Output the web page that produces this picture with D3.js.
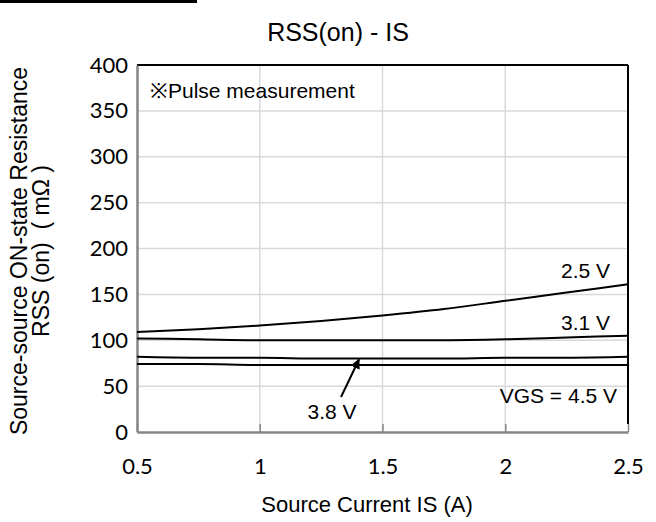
<!DOCTYPE html>
<html lang="en">
<head>
<meta charset="utf-8">
<title>RSS(on) - IS</title>
<script src="https://d3js.org/d3.v7.min.js"></script>
<style>
  body { margin: 0; background: #fff; }
  text { font-family: "Liberation Sans", Arial, sans-serif; fill: #000; white-space: pre; }
  .tick text { font-family: Lato, "Liberation Sans", sans-serif; font-size: 22px; }
</style>
</head>
<body>
<svg width="656" height="522"></svg>
<script>
// data
var currents = [0.5, 0.75, 1, 1.25, 1.5, 1.75, 2, 2.25, 2.5];
var r25 = [109, 112, 116, 121, 127, 134, 143, 152, 161];
var r31 = [102, 101, 100, 100, 100, 100, 101, 103, 105];
var r38 = [82, 81, 81, 80, 80, 80, 81, 81, 82];
var r45 = [74, 74, 73, 73, 73, 73, 73, 73, 73];
var xTicks = [0.5, 1, 1.5, 2, 2.5];
var yTicks = [0, 50, 100, 150, 200, 250, 300, 350, 400];

var svg = d3.select("svg");
var pL = 137, pR = 628, pT = 65, pB = 432;

var x = d3.scaleLinear().domain([0.5, 2.5]).range([pL, pR]);
var y = d3.scaleLinear().domain([0, 400]).range([pB, pT]);

// stray black bar at the top edge
svg.append("rect").attr("x", 0).attr("y", 0).attr("width", 197).attr("height", 3).attr("fill", "#000");

// gridlines
svg.append("g").selectAll("line").data(yTicks.slice(1, -1)).join("line")
  .attr("x1", pL).attr("x2", pR)
  .attr("y1", d => y(d)).attr("y2", d => y(d))
  .attr("stroke", "#d9d9d9").attr("stroke-width", 1.5);
svg.append("g").selectAll("line").data(xTicks.slice(1, -1)).join("line")
  .attr("x1", d => x(d)).attr("x2", d => x(d))
  .attr("y1", pT).attr("y2", pB)
  .attr("stroke", "#d9d9d9").attr("stroke-width", 1.5);

// top and right frame in black
svg.append("line").attr("x1", pL).attr("x2", pR).attr("y1", pT).attr("y2", pT)
  .attr("stroke", "#000").attr("stroke-width", 2);
svg.append("line").attr("x1", pR).attr("x2", pR).attr("y1", pT).attr("y2", pB - 8)
  .attr("stroke", "#000").attr("stroke-width", 2);

// axes
var xAxis = svg.append("g").attr("transform", "translate(0," + pB + ")")
  .call(d3.axisBottom(x).tickValues(xTicks).tickSize(6).tickSizeOuter(0).tickPadding(20)
    .tickFormat(d3.format("")));
xAxis.select(".domain").attr("stroke", "#868686").attr("stroke-width", 2.5);
xAxis.selectAll(".tick line").attr("stroke", "#868686").attr("stroke-width", 1.5).attr("y1", -8).attr("y2", 0);

var yAxis = svg.append("g").attr("transform", "translate(" + pL + ",0)")
  .call(d3.axisLeft(y).tickValues(yTicks).tickSize(0).tickSizeOuter(0).tickPadding(9));
yAxis.select(".domain").attr("stroke", "#868686").attr("stroke-width", 2.5);

// curves
var line = d3.line().x((d, i) => x(currents[i])).y(d => y(d)).curve(d3.curveMonotoneX);
[r25, r31, r38, r45].forEach(function (s) {
  svg.append("path").attr("d", line(s)).attr("fill", "none")
    .attr("stroke", "#000").attr("stroke-width", 2);
});

// title and axis labels
svg.append("text").attr("x", 338).attr("y", 41).attr("text-anchor", "middle")
  .attr("font-size", 25).text("RSS(on) - IS");
svg.append("text").attr("x", 367).attr("y", 512).attr("text-anchor", "middle")
  .attr("font-size", 22).text("Source Current IS (A)");
var yl = svg.append("text").attr("transform", "translate(27,251) rotate(-90)")
  .attr("text-anchor", "middle").attr("font-size", 23);
yl.append("tspan").attr("x", 0).attr("dy", 0).text("Source-source ON-state Resistance");
yl.append("tspan").attr("x", 0).attr("dy", 22).text("RSS (on)  ( m\u03A9 )");

// annotations
svg.append("text").attr("x", 150).attr("y", 98).attr("font-size", 21).text("\u203BPulse measurement");
svg.append("text").attr("x", 610).attr("y", 278).attr("text-anchor", "end").attr("font-size", 21).text("2.5 V");
svg.append("text").attr("x", 610).attr("y", 330).attr("text-anchor", "end").attr("font-size", 21).text("3.1 V");
svg.append("text").attr("x", 617).attr("y", 403).attr("text-anchor", "end").attr("font-size", 21).text("VGS = 4.5 V");
svg.append("text").attr("x", 332).attr("y", 419).attr("text-anchor", "middle").attr("font-size", 21).text("3.8 V");

// arrow to the 3.8 V curve
svg.append("defs").append("marker").attr("id", "ah").attr("viewBox", "0 0 10 10")
  .attr("refX", 9).attr("refY", 5).attr("markerWidth", 5).attr("markerHeight", 5)
  .attr("orient", "auto").append("path").attr("d", "M0,0L10,5L0,10z").attr("fill", "#000");
svg.append("line").attr("x1", 341).attr("y1", 397).attr("x2", 359).attr("y2", y(79))
  .attr("stroke", "#000").attr("stroke-width", 2).attr("marker-end", "url(#ah)");
</script>
</body>
</html>
